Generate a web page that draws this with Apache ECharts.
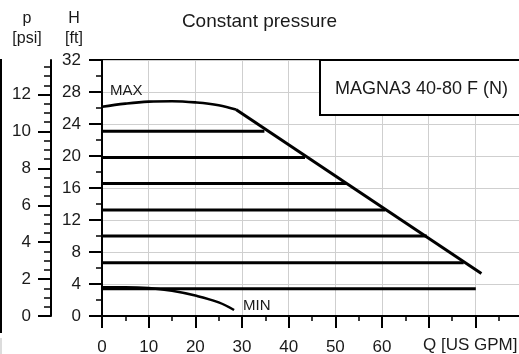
<!DOCTYPE html>
<html>
<head>
<meta charset="utf-8">
<script src="https://cdn.jsdelivr.net/npm/echarts@6/dist/echarts.min.js"></script>
<style>
html,body{margin:0;padding:0;background:#fff;}
#c{width:519px;height:354px;}
</style>
</head>
<body>
<div id="c"></div>
<script>
// ---- data ----
const xTickLabels = [0, 10, 20, 30, 40, 50, 60];
const psiMajor = [0, 2, 4, 6, 8, 10, 12];
const psiMinor = [0.5, 1, 1.5, 2.5, 3, 3.5, 4.5, 5, 5.5, 6.5, 7, 7.5, 8.5, 9, 9.5, 10.5, 11, 11.5, 12.5, 13, 13.5];
const maxCurveQ = [0, 5, 10, 15, 20, 25, 28.7];
const maxCurveH = [26.15, 26.55, 26.8, 26.85, 26.7, 26.35, 25.8];
const maxLimitQ = [28.7, 81.3];
const maxLimitH = [25.8, 5.3];
const cpH = [23.1, 19.8, 16.55, 13.25, 10.0, 6.65, 3.4];
const cpEndQ = [34.8, 43.5, 52.4, 60.7, 69.6, 77.5, 80.1];
const minQ = [0, 5, 10, 15, 20, 25, 28.3];
const minH = [3.6, 3.6, 3.5, 3.15, 2.55, 1.7, 0.75];
const FT_PER_PSI = 2.3067;

const FONT = 'Liberation Sans, Arial, sans-serif';
const TXT = '#1a1a1a';
const chart = echarts.init(document.getElementById('c'), null, {renderer: 'canvas'});

const zip = (a, b) => a.map((v, i) => [v, b[i]]);
const lineSeries = (data, w) => ({
  type: 'line', data, xAxisIndex: 0, yAxisIndex: 0, symbol: 'none',
  lineStyle: {color: '#000', width: w}, silent: true, animation: false, z: 5
});

const series = [];
series.push(Object.assign(lineSeries(zip(maxCurveQ, maxCurveH), 2.6), {smooth: 0.4}));
series.push(lineSeries(zip(maxLimitQ, maxLimitH), 3));
cpH.forEach((h, i) => series.push(lineSeries([[0, h], [cpEndQ[i], h]], 3)));
series.push(Object.assign(lineSeries(zip(minQ, minH), 2.6), {smooth: 0.4}));

const psiMax = 32 / FT_PER_PSI;

chart.setOption({
  animation: false,
  backgroundColor: '#fff',
  textStyle: {fontFamily: FONT, color: TXT},
  grid: {
    left: 102, top: 60, width: 420, height: 256,
    show: true, borderColor: '#000', borderWidth: 2, backgroundColor: 'transparent',
    containLabel: false, outerBoundsMode: 'none'
  },
  xAxis: {
    type: 'value', min: 0, max: 90, interval: 10,
    axisLine: {lineStyle: {color: '#000', width: 2}},
    axisTick: {length: 12, lineStyle: {color: '#000', width: 2}},
    minorTick: {show: true, splitNumber: 2, length: 5, lineStyle: {color: '#000', width: 1.5}},
    splitLine: {show: true, lineStyle: {color: '#cfcfcf', width: 1}},
    axisLabel: {
      fontSize: 17, fontFamily: FONT, color: TXT, margin: 23,
      customValues: xTickLabels
    }
  },
  yAxis: [
    {
      type: 'value', min: 0, max: 32, interval: 4, position: 'left',
      axisLine: {show: true, lineStyle: {color: '#000', width: 2}},
      axisTick: {show: true, length: 13, lineStyle: {color: '#000', width: 2}},
      minorTick: {show: true, splitNumber: 2, length: 6, lineStyle: {color: '#000', width: 1.5}},
      splitLine: {show: true, lineStyle: {color: '#cfcfcf', width: 1}},
      axisLabel: {fontSize: 17, fontFamily: FONT, color: TXT, margin: 21}
    },
    {
      type: 'value', min: 0, max: psiMax, position: 'left', offset: 51,
      axisLine: {show: true, lineStyle: {color: '#000', width: 2}},
      axisTick: {show: true, length: 13, customValues: psiMajor, lineStyle: {color: '#000', width: 2}},
      splitLine: {show: false},
      axisLabel: {fontSize: 17, fontFamily: FONT, color: TXT, margin: 20, customValues: psiMajor}
    },
    {
      type: 'value', min: 0, max: psiMax, position: 'left', offset: 51,
      axisLine: {show: false},
      axisTick: {show: true, length: 7, customValues: psiMinor, lineStyle: {color: '#000', width: 1.5}},
      splitLine: {show: false},
      axisLabel: {show: false}
    }
  ],
  series,
  graphic: [
    {type: 'text', left: 'center', top: 12, style: {text: 'Constant pressure', font: '19px ' + FONT, fill: TXT}, z: 10},
    {type: 'text', x: 27, y: 9, style: {text: 'p\n[psi]', font: '16px ' + FONT, fill: TXT, align: 'center', lineHeight: 20}, z: 10},
    {type: 'text', x: 74, y: 9, style: {text: 'H\n[ft]', font: '16px ' + FONT, fill: TXT, align: 'center', lineHeight: 20}, z: 10},
    {type: 'rect', shape: {x: 320, y: 60, width: 230, height: 55}, style: {fill: '#fff', stroke: '#000', lineWidth: 2}, z: 20},
    {type: 'text', x: 335, y: 89, style: {text: 'MAGNA3 40-80 F (N)', font: '18px ' + FONT, fill: TXT, verticalAlign: 'middle'}, z: 21},
    {type: 'text', x: 110, y: 91, style: {text: 'MAX', font: '15px ' + FONT, fill: TXT, verticalAlign: 'middle'}, z: 21},
    {type: 'text', x: 243, y: 306, style: {text: 'MIN', font: '15px ' + FONT, fill: TXT, verticalAlign: 'middle'}, z: 21},
    {type: 'text', x: 423, y: 345.5, style: {text: 'Q [US GPM]', font: '17px ' + FONT, fill: TXT, verticalAlign: 'middle'}, z: 21},
    {type: 'line', shape: {x1: 1, y1: 59, x2: 1, y2: 333}, style: {stroke: '#000', lineWidth: 2}, z: 21},
    {type: 'line', shape: {x1: 1, y1: 338, x2: 1, y2: 354}, style: {stroke: '#dcdcdc', lineWidth: 2}, z: 21}
  ]
});
</script>
</body>
</html>
